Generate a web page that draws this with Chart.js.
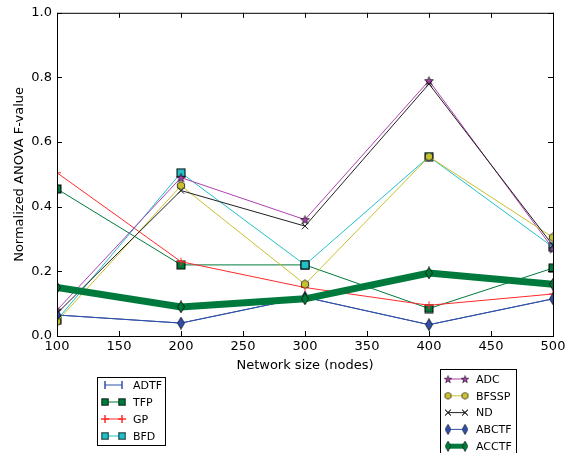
<!DOCTYPE html>
<html>
<head>
<meta charset="utf-8">
<script src="https://cdn.jsdelivr.net/npm/chart.js@4.4.0/dist/chart.umd.min.js"></script>
<style>
  body{margin:0;background:#fff;}
  #wrap{width:574px;height:453px;position:relative;}
</style>
</head>
<body>
<div id="wrap"><canvas id="fChart" width="574" height="453"></canvas></div>
<script>
// data
let sizes = [100, 200, 300, 400, 500];
let adtf  = [0.065, 0.040, 0.120, 0.035, 0.115];
let tfp   = [0.455, 0.220, 0.220, 0.085, 0.210];
let gp    = [0.505, 0.230, 0.150, 0.095, 0.130];
let bfd   = [0.050, 0.505, 0.220, 0.555, 0.275];
let adc   = [0.080, 0.490, 0.360, 0.790, 0.270];
let bfssp = [0.045, 0.465, 0.160, 0.555, 0.305];
let nd    = [0.070, 0.450, 0.340, 0.780, 0.280];
let abctf = [0.065, 0.040, 0.120, 0.035, 0.115];
let acctf = [0.150, 0.090, 0.115, 0.195, 0.160];
let xTicks = [100, 150, 200, 250, 300, 350, 400, 450, 500];
let yTicks = [0.0, 0.2, 0.4, 0.6, 0.8, 1.0];

// little marker images (matplotlib style)
function mk(w, h, draw){
  let c = document.createElement('canvas');
  c.width = w; c.height = h;
  let g = c.getContext('2d');
  draw(g, w, h);
  return c;
}
function diamond(fill){
  return mk(8, 13, function(g, w, h){
    g.beginPath();
    g.moveTo(w/2, 0.5); g.lineTo(w-0.5, h/2); g.lineTo(w/2, h-0.5); g.lineTo(0.5, h/2); g.closePath();
    g.fillStyle = fill; g.fill();
    g.strokeStyle = '#000'; g.lineWidth = 0.7; g.stroke();
  });
}
function square(fill){
  return mk(10, 10, function(g, w, h){
    g.fillStyle = fill; g.fillRect(1, 1, 8, 8);
    g.strokeStyle = '#000'; g.lineWidth = 1; g.strokeRect(1, 1, 8, 8);
  });
}
function star(fill){
  return mk(11, 11, function(g, w, h){
    g.beginPath();
    for (let i=0;i<10;i++){
      let r = i%2 ? 1.9 : 4.6;
      let a = -Math.PI/2 + i*Math.PI/5;
      g.lineTo(5.5 + r*Math.cos(a), 6 + r*Math.sin(a));
    }
    g.closePath();
    g.fillStyle = fill; g.fill();
    g.strokeStyle = '#000'; g.lineWidth = 0.7; g.stroke();
  });
}
function hexagon(fill){
  return mk(10, 10, function(g, w, h){
    g.beginPath();
    for (let i=0;i<6;i++){
      let a = -Math.PI/2 + i*Math.PI/3;
      g.lineTo(5 + 4.2*Math.cos(a), 5 + 4.2*Math.sin(a));
    }
    g.closePath();
    g.fillStyle = fill; g.fill();
    g.strokeStyle = '#000'; g.lineWidth = 0.7; g.stroke();
  });
}

let colors = {adtf:'#3050a8', tfp:'#007a3c', gp:'#ff2a2a', bfd:'#22c0c8', adc:'#b040b0',
  bfssp:'#c8c030', nd:'#202020', abctf:'#3050a8', acctf:'#007a3c'};

let series = [
  {label:'ADTF', data:adtf, color:colors.adtf, width:1, point:'line', rot:90, radius:0},
  {label:'TFP', data:tfp, color:colors.tfp, width:1, point:square(colors.tfp)},
  {label:'GP', data:gp, color:colors.gp, width:1, point:'cross', radius:4},
  {label:'BFD', data:bfd, color:colors.bfd, width:1, point:square(colors.bfd)},
  {label:'ADC', data:adc, color:colors.adc, width:1, point:star(colors.adc)},
  {label:'BFSSP', data:bfssp, color:colors.bfssp, width:1, point:hexagon(colors.bfssp)},
  {label:'ND', data:nd, color:colors.nd, width:1, point:'crossRot', radius:4.5},
  {label:'ABCTF', data:abctf, color:colors.abctf, width:1, point:diamond(colors.abctf)},
  {label:'ACCTF', data:acctf, color:colors.acctf, width:7, point:diamond(colors.acctf)}
];

let datasets = [];
for (let i=0;i<series.length;i++){
  let s = series[i];
  datasets.push({
    label: s.label,
    data: s.data.map((v, j) => ({x: sizes[j], y: v})),
    borderColor: s.color,
    backgroundColor: s.color,
    borderWidth: s.width,
    pointStyle: s.point,
    pointRotation: s.rot || 0,
    pointRadius: s.radius === undefined ? 5 : s.radius,
    pointBorderColor: s.color,
    pointBorderWidth: 1,
    tension: 0,
    order: series.length - i
  });
}

// ticks inside the frame, axis titles and the two legend boxes
const decor = {
  id: 'decor',
  afterDraw(chart){
    const g = chart.ctx;
    const a = chart.chartArea;
    const xs = chart.scales.x, ys = chart.scales.y;
    g.save();
    g.strokeStyle = '#000'; g.lineWidth = 1;
    g.strokeRect(a.left + 0.5, a.top + 0.5, a.right - a.left, a.bottom - a.top);
    g.beginPath();
    xTicks.forEach(t => {
      let px = Math.round(xs.getPixelForValue(t)) + 0.5;
      g.moveTo(px, a.bottom); g.lineTo(px, a.bottom - 5);
      g.moveTo(px, a.top); g.lineTo(px, a.top + 5);
    });
    yTicks.forEach(t => {
      let py = Math.round(ys.getPixelForValue(t)) + 0.5;
      g.moveTo(a.left, py); g.lineTo(a.left + 5, py);
      g.moveTo(a.right, py); g.lineTo(a.right - 5, py);
    });
    g.stroke();

    g.fillStyle = '#000';
    g.font = '13px "DejaVu Sans"';
    g.textAlign = 'center'; g.textBaseline = 'middle';
    g.fillText('Network size (nodes)', (a.left + a.right)/2, 366);
    g.translate(20, (a.top + a.bottom)/2);
    g.rotate(-Math.PI/2);
    g.fillText('Normalized ANOVA F-value', 0, 0);
    g.restore();

    function legendBox(items, x0, y0, w, h, rowH, first){
      g.save();
      g.fillStyle = '#fff'; g.fillRect(x0, y0, w, h);
      g.strokeStyle = '#000'; g.lineWidth = 1;
      g.strokeRect(x0 + 0.5, y0 + 0.5, w, h);
      g.font = '11px "DejaVu Sans"';
      g.textBaseline = 'middle'; g.textAlign = 'left';
      items.forEach((idx, k) => {
        const s = series[idx];
        const y = first + k*rowH;
        g.strokeStyle = s.color; g.lineWidth = s.width > 1 ? 5 : 1;
        g.beginPath(); g.moveTo(x0 + 8, y); g.lineTo(x0 + 25, y); g.stroke();
        [x0 + 8, x0 + 25].forEach(px => {
          if (typeof s.point === 'string'){
            Chart.helpers.drawPoint(g, {pointStyle: s.point, rotation: s.rot || 0, radius: 4, borderWidth: 1}, px, y);
            g.strokeStyle = s.color; g.stroke();
          } else {
            const p = s.point;
            const sc = 0.85;
            g.drawImage(p, px - p.width*sc/2, y - p.height*sc/2, p.width*sc, p.height*sc);
          }
        });
        g.fillStyle = '#000';
        g.fillText(s.label, x0 + 36, y + 1);
      });
      g.restore();
    }
    legendBox([0,1,2,3], 97, 377, 68, 68, 17, 385);
    legendBox([4,5,6,7,8], 440, 369, 76, 90, 16.8, 379);
  }
};

new Chart(document.getElementById('fChart'), {
  type: 'line',
  data: {datasets: datasets},
  options: {
    responsive: false,
    animation: false,
    layout: {padding: {top: 12, right: 21, left: 0, bottom: 0}},
    plugins: {legend: {display: false}, tooltip: {enabled: false}},
    scales: {
      x: {
        type: 'linear', min: 100, max: 500,
        afterFit: s => { s.height = 117; },
        afterBuildTicks: s => { s.ticks = xTicks.map(v => ({value: v})); },
        grid: {display: false, drawTicks: false},
        border: {display: false},
        ticks: {color: '#000', padding: 3, font: {family: 'DejaVu Sans', size: 13}, maxRotation: 0}
      },
      y: {
        min: 0, max: 1,
        afterFit: s => { s.width = 57; },
        afterBuildTicks: s => { s.ticks = yTicks.map(v => ({value: v})); },
        grid: {display: false, drawTicks: false},
        border: {display: false},
        ticks: {color: '#000', padding: 5, font: {family: 'DejaVu Sans', size: 13},
          callback: v => v.toFixed(1)}
      }
    }
  },
  plugins: [decor]
});
</script>
</body>
</html>
